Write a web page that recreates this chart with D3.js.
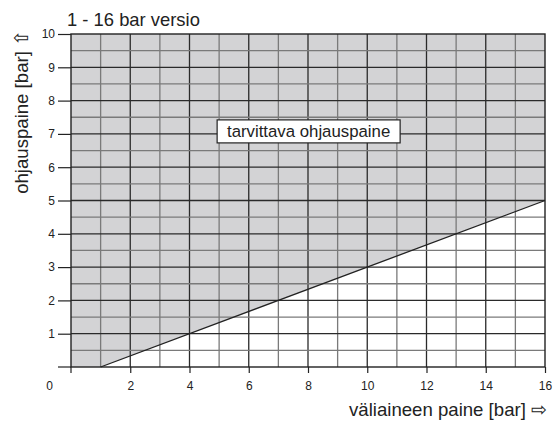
<!DOCTYPE html><html><head><meta charset="utf-8"></head>
<script src="https://cdn.jsdelivr.net/npm/d3@7"></script>
<body style="margin:0;background:#fff">
<svg id="chart"></svg>
<script>

var xTicks = [2, 4, 6, 8, 10, 12, 14, 16],
    yTicks = [1, 2, 3, 4, 5, 6, 7, 8, 9, 10];

// boundary of the required control pressure
var limitX = [1, 16],
    limitY = [0, 5];

var title = "1 - 16 bar versio",
    xTitle = "väliaineen paine [bar] \u21E8",
    yTitle = "ohjauspaine [bar] \u21E7",
    areaLabel = "tarvittava ohjauspaine";

var width = 553, height = 423;
var plotLeft = 71, plotRight = 545, plotTop = 34, plotBottom = 367;
var font = "'Liberation Sans', Arial, sans-serif";
var shade = "#d3d3d5";

var svg = d3.select("#chart")
    .attr("width", width)
    .attr("height", height)
    .style("font-family", font);

var x = d3.scaleLinear().domain([0, 16]).range([plotLeft, plotRight]);
var y = d3.scaleLinear().domain([0, 10]).range([plotBottom, plotTop]);

// shaded region above the limit line
var limit = limitX.map(function(d, i) { return [d, limitY[i]]; });
var region = [[0, 0]].concat(limit).concat([[16, 10], [0, 10]]);
var line = d3.line().x(function(d) { return x(d[0]); }).y(function(d) { return y(d[1]); });

svg.append("path")
    .attr("d", line(region))
    .attr("fill", shade);

// grid
var xGrid = d3.range(1, 16),
    yGrid = d3.range(0.5, 10, 0.5);

svg.selectAll(".vgrid")
    .data(xGrid)
  .enter().append("line")
    .attr("x1", function(d) { return x(d); })
    .attr("x2", function(d) { return x(d); })
    .attr("y1", y(0))
    .attr("y2", y(10))
    .attr("stroke", function(d) { return d % 2 == 0 ? "#2a2a2a" : "#7a7a7a"; })
    .attr("stroke-width", 1.3);

svg.selectAll(".hgrid")
    .data(yGrid)
  .enter().append("line")
    .attr("x1", x(0))
    .attr("x2", x(16))
    .attr("y1", function(d) { return y(d); })
    .attr("y2", function(d) { return y(d); })
    .attr("stroke", function(d) { return d % 1 == 0 ? "#2a2a2a" : "#7a7a7a"; })
    .attr("stroke-width", 1.3);

// frame
svg.append("rect")
    .attr("x", x(0))
    .attr("y", y(10))
    .attr("width", x(16) - x(0))
    .attr("height", y(0) - y(10))
    .attr("fill", "none")
    .attr("stroke", "#222")
    .attr("stroke-width", 1.4);

// limit line
svg.append("path")
    .attr("d", line(limit))
    .attr("fill", "none")
    .attr("stroke", "#222")
    .attr("stroke-width", 1.3);

// y axis
var yAxis = d3.axisLeft(y).tickValues(yTicks).tickSize(13).tickPadding(3);
var gy = svg.append("g")
    .attr("transform", "translate(" + x(0) + ",0)")
    .call(yAxis);
gy.select(".domain").remove();
gy.selectAll("line").attr("stroke", "#222").attr("stroke-width", 1.2);
gy.selectAll("text").style("font-size", "12px").style("font-family", font).attr("fill", "#222");
gy.append("line").attr("x1", -13).attr("x2", 0).attr("y1", y(0)).attr("y2", y(0))
    .attr("stroke", "#222").attr("stroke-width", 1.2);

// x axis
var xAxis = d3.axisBottom(x).tickValues(xTicks).tickSize(6).tickPadding(8.5);
var gx = svg.append("g")
    .attr("transform", "translate(0," + y(0) + ")")
    .call(xAxis);
gx.select(".domain").remove();
gx.selectAll("line").attr("stroke", "#222").attr("stroke-width", 1.2);
gx.selectAll("text").style("font-size", "12px").style("font-family", font).attr("fill", "#222");
gx.append("line").attr("x1", x(0)).attr("x2", x(0)).attr("y1", 0).attr("y2", 6)
    .attr("stroke", "#222").attr("stroke-width", 1.2);

svg.append("text")
    .attr("x", 53)
    .attr("y", 390)
    .attr("text-anchor", "end")
    .style("font-size", "12px")
    .attr("fill", "#222")
    .text("0");

// titles
svg.append("text")
    .attr("x", 67)
    .attr("y", 26)
    .style("font-size", "18.4px")
    .attr("fill", "#222")
    .text(title);

svg.append("text")
    .attr("x", plotRight + 2)
    .attr("y", 416)
    .attr("text-anchor", "end")
    .style("font-size", "18.6px")
    .attr("fill", "#222")
    .text(xTitle);

svg.append("text")
    .attr("transform", "translate(28,30) rotate(-90)")
    .attr("text-anchor", "end")
    .style("font-size", "18.6px")
    .attr("fill", "#222")
    .text(yTitle);

// area label
var lab = svg.append("g").attr("transform", "translate(" + x(5) + "," + y(7) + ")");
lab.append("rect")
    .attr("x", -2)
    .attr("y", -14)
    .attr("width", 183)
    .attr("height", 23)
    .attr("fill", "#fff")
    .attr("stroke", "#222")
    .attr("stroke-width", 1.2);
lab.append("text")
    .attr("x", 89.5)
    .attr("y", 3)
    .attr("text-anchor", "middle")
    .style("font-size", "16.8px")
    .attr("fill", "#222")
    .text(areaLabel);

</script>
</body></html>
